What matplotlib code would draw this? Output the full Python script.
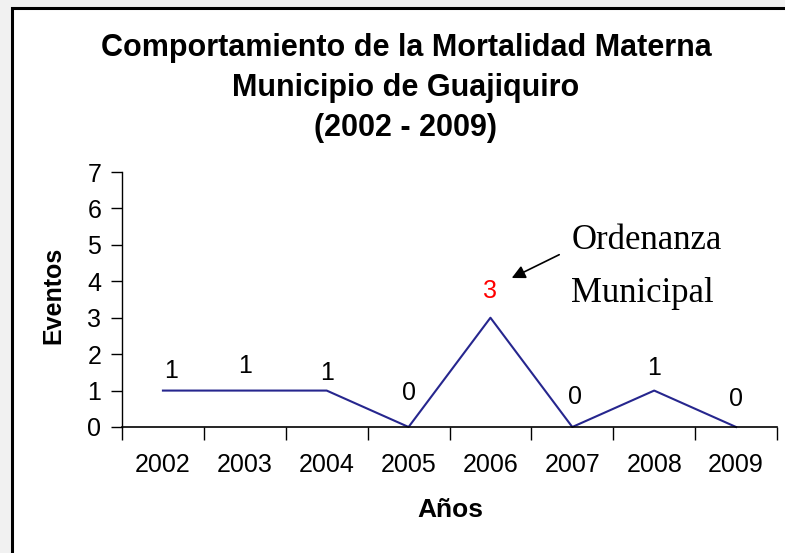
import matplotlib
matplotlib.use("Agg")
import matplotlib.pyplot as plt
from matplotlib.patches import Rectangle

years = ["2002", "2003", "2004", "2005", "2006", "2007", "2008", "2009"]
eventos = [1, 1, 1, 0, 3, 0, 1, 0]
label_colors = ["black", "black", "black", "black", "red", "black", "black", "black"]
label_offsets_pt = [(6, 14), (0, 18), (0, 12.5), (0, 24.5), (0, 19), (2, 21.5), (0, 16.5), (0, 20)]

title = "Comportamiento de la Mortalidad Materna\nMunicipio de Guajiquiro\n(2002 - 2009)"
xlabel = "Años"
ylabel = "Eventos"
note = "Ordenanza\nMunicipal"

W, H = 785, 553
fig = plt.figure(figsize=(W / 100, H / 100), dpi=100)
fig.patch.set_facecolor("#f1f1f1")
fig.patches.append(Rectangle((12 / W, -0.05), 1.2, (H - 8) / H + 0.05,
                             transform=fig.transFigure, facecolor="white",
                             edgecolor="black", linewidth=2.2, zorder=-5))

ax = fig.add_axes([122 / W, (H - 427) / H, (777 - 122) / W, (427 - 172) / H])
ax.set_zorder(2)
ax.set_facecolor("none")
x = list(range(len(years)))
ax.plot(x, eventos, color="#26268e", linewidth=1.5, clip_on=False)

for xi, v, c, off in zip(x, eventos, label_colors, label_offsets_pt):
    ax.annotate(str(v), (xi, v), xytext=off, textcoords="offset points",
                ha="center", va="center", fontsize=18, color=c,
                family="Liberation Sans")

ax.set_xlim(-0.5, len(years) - 0.5)
ax.set_ylim(0, 7)
ax.set_yticks(range(0, 8))
ax.set_xticks([i - 0.5 for i in range(len(years) + 1)])
ax.set_xticklabels([])
ax.set_xticks(x, minor=True)
ax.set_xticklabels(years, minor=True)
ax.tick_params(axis="x", which="minor", length=0, pad=19, labelsize=18)
ax.tick_params(axis="x", which="major", length=9, width=1, direction="out")
ax.tick_params(axis="y", length=8, width=1, direction="out", labelsize=18, pad=7)
for lab in ax.get_xticklabels(minor=True) + ax.get_yticklabels():
    lab.set_family("Liberation Sans")

for s in ["top", "right"]:
    ax.spines[s].set_visible(False)
ax.spines["left"].set_linewidth(1)
ax.spines["bottom"].set_linewidth(1.2)

fig.text(406 / W, 1 - 88 / H, title, ha="center", va="center", fontsize=22,
         fontweight="bold", family="Liberation Sans", linespacing=1.42)
fig.text(450 / W, 1 - 510 / H, xlabel, ha="center", va="center", fontsize=19,
         fontweight="bold", family="Liberation Sans")
fig.text(53 / W, 1 - 295 / H, ylabel, ha="center", va="center", fontsize=18,
         fontweight="bold", family="Liberation Sans", rotation=90)

ax.annotate("", xy=(4.26, 4.09), xytext=(4.84, 4.73),
            arrowprops=dict(arrowstyle="-|>", color="black", lw=1.2,
                            mutation_scale=20, shrinkA=0, shrinkB=0))
ax.text(4.99, 4.38, note, ha="left", va="center", fontsize=25,
        family="Liberation Serif", linespacing=1.8)

fig.savefig("out.png", dpi=100, facecolor=fig.get_facecolor())
